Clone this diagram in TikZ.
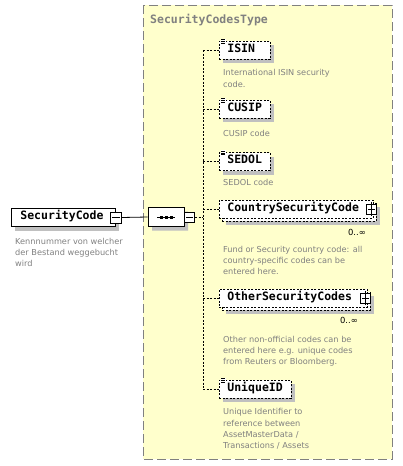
\documentclass[tikz,border=0pt]{standalone}
\usepackage{fontspec}
\setmainfont{DejaVu Sans}
\setmonofont{DejaVu Sans Mono}
\usetikzlibrary{shapes.misc}
\definecolor{typefill}{RGB}{255,255,204}
\definecolor{typeborder}{RGB}{128,128,128}
\definecolor{shadowgray}{RGB}{192,192,192}
\definecolor{desccol}{RGB}{128,128,128}
\begin{document}
\begin{tikzpicture}[x=1pt,y=-1pt,
  elname/.style={font=\ttfamily\bfseries\fontsize{11.5}{13}\selectfont},
  shadowed/.style={preaction={fill=shadowgray, draw=none, transform canvas={shift={(4pt,-4pt)}}}},
  elem/.style={draw, fill=white, line width=0.8pt, minimum height=18pt, inner xsep=8pt, inner ysep=0pt,
    text height=7pt, text depth=3pt, anchor=west, align=left, elname},
  optdash/.style={dash pattern=on 2pt off 1.5pt},
  single/.style={elem, shadowed},
  multi/.style={elem,
    preaction={fill=shadowgray, draw=none, transform canvas={shift={(7pt,-7pt)}}},
    preaction={fill=white, draw, line width=0.8pt, optdash, transform canvas={shift={(3pt,-3pt)}}}},
  desc/.style={anchor=base west, inner sep=0pt, text=desccol, font=\fontsize{8.2}{11.2}\selectfont, align=left},
  mult/.style={anchor=base east, inner sep=0pt, font=\fontsize{8.4}{9}\selectfont},
  tbox/.style={draw, fill=white, line width=0.8pt, minimum size=10pt, inner sep=0pt},
  conn/.style={line width=0.8pt},
  dconn/.style={line width=0.8pt, optdash},
]
\useasboundingbox (0,0) rectangle (403,466);
% type container
\draw[fill=typefill, draw=typeborder, line width=1pt, dash pattern=on 9pt off 4pt] (143,5) rectangle (392,459);
\node[anchor=base west, inner sep=0pt, text=typeborder, elname] (title) at (150,23) {SecurityCodesType};

% root element
\node[single, text width=86pt, inner xsep=9pt] (sc) at (11,217.5) {SecurityCode};
\node[tbox, minimum size=11pt] (scm) at (sc.east) {};
\draw[line width=0.8pt] ([xshift=2pt]scm.west) -- ([xshift=-2pt]scm.east);
\node[desc] (scd) at (15,266.5) {Kennnummer von welcher\\der Bestand weggebucht\\wird};

% sequence compositor
\node[chamfered rectangle, chamfered rectangle xsep=5pt, chamfered rectangle ysep=6pt,
  draw, fill=white, line width=0.8pt, minimum width=36pt, minimum height=19pt, inner sep=0pt, shadowed] (seq) at (166,217) {};
\draw[line width=1pt] ([xshift=-9pt]seq.center) -- ([xshift=9pt]seq.center);
\foreach \dx in {-5,0,5} \fill ([xshift=\dx pt]seq.center) +(-1.5,-1.5) rectangle +(1.5,1.5);
\node[tbox, anchor=west] (seqm) at (seq.east) {};
\draw[line width=0.8pt] ([xshift=2pt]seqm.west) -- ([xshift=-2pt]seqm.east);
\draw[conn] (scm.east) -- (seq.west);

% children
\node[single, optdash, text width=35pt] (isin) at (219,50) {ISIN};
\node[single, optdash, text width=35pt] (cusip) at (219,109) {CUSIP};
\node[single, optdash, text width=35pt] (sedol) at (219,161.5) {SEDOL};
\node[multi, optdash, text width=138pt] (csc) at (219,209) {CountrySecurityCode};
\node[multi, optdash, text width=132pt] (osc) at (219,298) {OtherSecurityCodes};
\node[single, optdash, text width=56pt] (uid) at (219,389) {UniqueID};

% simple type icons
\foreach \n in {isin,cusip,sedol,uid}{
  \fill[white] ([shift={(1.5,-2)}]\n.north west) rectangle ([shift={(6.5,3)}]\n.north west);
  \foreach \dy in {-1,0.7,2.4}
    \draw[line width=0.6pt] ([shift={(2,\dy)}]\n.north west) -- ++(4,0);
}

% expand boxes
\node[tbox] (cscp) at ([xshift=-2pt]csc.east) {};
\draw[line width=0.8pt] ([xshift=2pt]cscp.west) -- ([xshift=-2pt]cscp.east) ([yshift=2pt]cscp.north) -- ([yshift=-2pt]cscp.south);
\node[tbox] (oscp) at ([xshift=-2pt]osc.east) {};
\draw[line width=0.8pt] ([xshift=2pt]oscp.west) -- ([xshift=-2pt]oscp.east) ([yshift=2pt]oscp.north) -- ([yshift=-2pt]oscp.south);

\node[mult] (cscm) at (366,235) {0..∞};
\node[mult] (oscm) at (358,323) {0..∞};

% connectors
\coordinate (bus) at (203,217);
\draw[dconn] (seqm.east) -- (bus);
\draw[dconn] (bus |- isin.west) -- (bus |- uid.west);
\foreach \n in {isin,cusip,sedol,csc,osc,uid}
  \draw[dconn] (bus |- \n.west) -- (\n.west);

% descriptions (base = last line)
\node[desc] (isind) at (223,87) {International ISIN security\\code.};
\node[desc] (cusipd) at (223,136) {CUSIP code};
\node[desc] (sedold) at (223,185.5) {SEDOL code};
\node[desc] (cscd) at (223,274.5) {Fund or Security country code: all\\country-specific codes can be\\entered here.};
\node[desc] (oscd) at (223,364.5) {Other non-official codes can be\\entered here e.g. unique codes\\from Reuters or Bloomberg.};
\node[desc] (uidd) at (223,448.5) {Unique Identifier to\\reference between\\AssetMasterData /\\Transactions / Assets};
\end{tikzpicture}
\end{document}
